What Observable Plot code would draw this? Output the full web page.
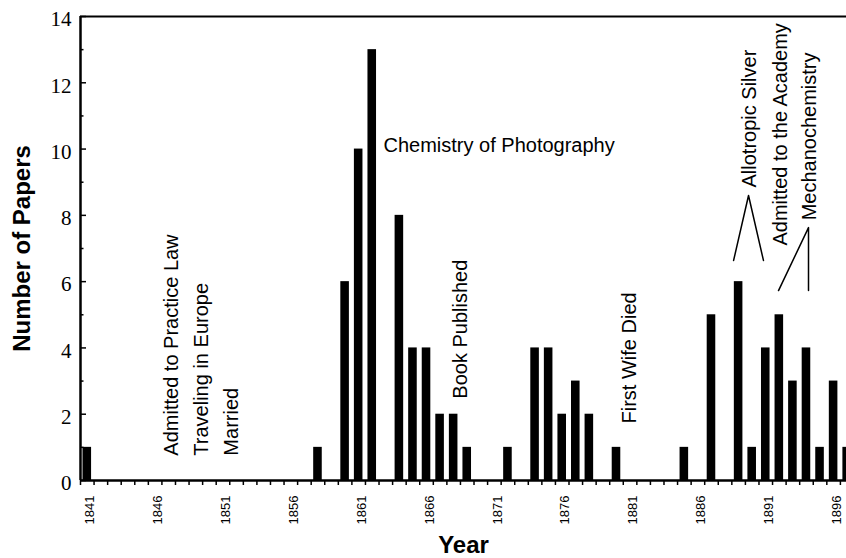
<!DOCTYPE html>
<html><head><meta charset="utf-8">
<script src="https://cdn.jsdelivr.net/npm/d3@7"></script>
<script src="https://cdn.jsdelivr.net/npm/@observablehq/plot@0.6"></script>
<style>
html,body{margin:0;padding:0;background:#fff;overflow:hidden;}
</style></head><body><div id="chart"></div>
<script>
// Bars: year and number of papers
const years  = [1841,1858,1860,1861,1862,1864,1865,1866,1867,1868,1869,1872,1874,1875,1876,1877,1878,1880,1885,1887,1889,1890,1891,1892,1893,1894,1895,1896,1897];
const papers = [1,   1,   6,   10,  13,  8,   4,   4,   2,   2,   1,   1,   4,   4,   2,   3,   2,   1,   1,   5,   6,   1,   4,   5,   3,   4,   1,   3,   1];

// Axis ticks
const yTickLabels = [0,2,4,6,8,10,12,14];
const yMinorTicks = [1,3,5,7,9,11,13];
const xTickLabels = [1841,1846,1851,1856,1861,1866,1871,1876,1881,1886,1891,1896];
const xTickYears  = d3.range(1840.5, 1897, 1);

// Annotations (rotated): text, anchor year, anchor level (data units)
const eventLabels = ["Admitted to Practice Law","Traveling in Europe","Married","Book Published","First Wife Died","Allotropic Silver","Admitted to the Academy","Mechanochemistry"];
const eventYears  = [1847.18, 1849.42, 1851.67, 1868.5, 1880.96, 1889.8, 1892.1, 1894.2];
const eventLevels = [0.75,    0.75,    0.75,    2.47,   1.72,    8.84,   7.09,   7.85];

// Horizontal annotation
const hLabel = ["Chemistry of Photography"];
const hYear  = [1862.83];
const hLevel = [10.11];

// Leader lines
const leaderGroup  = ["a","a","a","b","b","b"];
const leaderYears  = [1888.63, 1889.73, 1890.83, 1891.94, 1894.15, 1894.15];
const leaderLevels = [6.64,    8.6,     6.64,    5.73,    7.63,    5.73];

// Titles
const yTitle = ["Number of Papers"];
const xTitle = ["Year"];

const bars = years.map((year, i) => ({year, count: papers[i]}));
const events = eventLabels.map((label, i) => ({label, year: eventYears[i], level: eventLevels[i]}));
const hEvents = hLabel.map((label, i) => ({label, year: hYear[i], level: hLevel[i]}));
const leaders = leaderGroup.map((g, i) => ({g, year: leaderYears[i], level: leaderLevels[i]}));

const sans = "Liberation Sans, Arial, sans-serif";

const chart = Plot.plot({
  width: 846, height: 558,
  marginLeft: 80, marginRight: 0, marginTop: 16, marginBottom: 78,
  x: {domain: [1840.5, 1896.95], axis: null},
  y: {domain: [0, 14], axis: null},
  style: {background: "#fff", color: "#000", fontFamily: sans},
  marks: [
    Plot.rectY(bars, {x1: d => d.year - 0.5, x2: d => d.year + 0.5, y: "count", insetLeft: 2.5, insetRight: 2.5, fill: "#000"}),
    Plot.ruleY([14], {stroke: "#000", strokeWidth: 2}),
    Plot.ruleY([0], {stroke: "#000", strokeWidth: 2.5}),
    Plot.ruleX([1840.5], {stroke: "#000", strokeWidth: 2.5}),
    Plot.axisY({ticks: yTickLabels, tickSize: 6, insetLeft: 6, tickFormat: () => "", label: null, strokeWidth: 1.5}),
    Plot.axisY({ticks: yMinorTicks, tickSize: 3.5, insetLeft: 3.5, tickFormat: () => "", label: null, strokeWidth: 1.5}),
    Plot.axisY({ticks: yTickLabels, tickSize: 0, tickPadding: 9, dy: 3, fontSize: 21, fontFamily: "Liberation Serif, serif", label: null}),
    Plot.axisX({ticks: xTickYears, tickSize: 5, tickFormat: () => "", label: null, strokeWidth: 1.5}),
    Plot.axisX({ticks: xTickLabels, tickSize: 0, tickPadding: 15, tickRotate: -90, dx: 3, fontSize: 13, fontFamily: sans, tickFormat: d => String(d), label: null}),
    Plot.text(yTitle, {text: d => d, frameAnchor: "left", textAnchor: "middle", lineAnchor: "middle", rotate: -90, dx: -58, fontSize: 24, fontWeight: "bold", fontFamily: sans}),
    Plot.text(xTitle, {text: d => d, frameAnchor: "bottom", textAnchor: "middle", lineAnchor: "middle", dy: 65, fontSize: 24, fontWeight: "bold", fontFamily: sans}),
    Plot.text(events, {x: "year", y: "level", text: "label", rotate: -90, textAnchor: "start", fontSize: 20, fontFamily: sans}),
    Plot.text(hEvents, {x: "year", y: "level", text: "label", textAnchor: "start", fontSize: 20, fontFamily: sans}),
    Plot.line(leaders, {x: "year", y: "level", z: "g", stroke: "#000", strokeWidth: 1.5})
  ]
});
document.getElementById("chart").appendChild(chart);
</script>
</body></html>
